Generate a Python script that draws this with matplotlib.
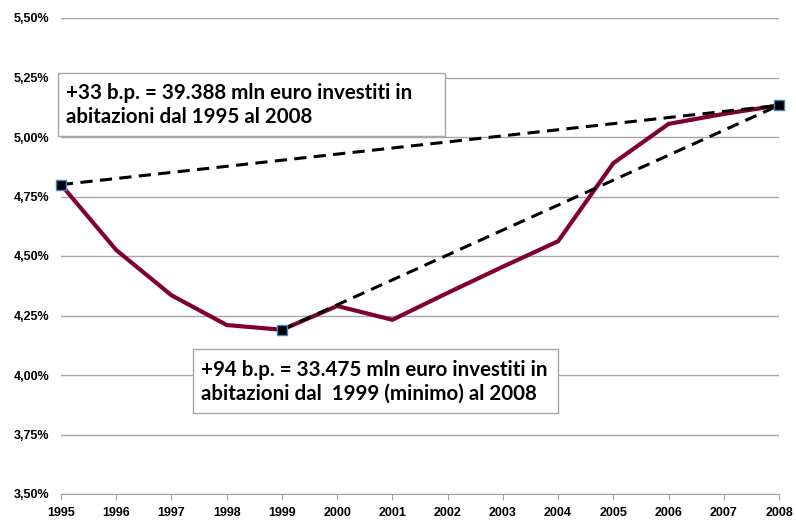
import matplotlib
matplotlib.use("Agg")
import matplotlib.pyplot as plt
from matplotlib.patches import Rectangle
from matplotlib.ticker import FuncFormatter

years = [1995, 1996, 1997, 1998, 1999, 2000, 2001, 2002, 2003, 2004, 2005, 2006, 2007, 2008]
rates = [4.80, 4.525, 4.335, 4.21, 4.19, 4.29, 4.232, 4.345, 4.455, 4.562, 4.89, 5.055, 5.097, 5.133]

# anchor points of the two comparisons (start year, end year)
span_long = [1995, 2008]
span_min = [1999, 2008]

note_long = "+33 b.p. = 39.388 mln euro investiti in\nabitazioni dal 1995 al 2008"
note_min = "+94 b.p. = 33.475 mln euro investiti in\nabitazioni dal  1999 (minimo) al 2008"

y_ticks = [3.50, 3.75, 4.00, 4.25, 4.50, 4.75, 5.00, 5.25, 5.50]

W, H = 796, 520
plt.rcParams["font.family"] = ["Liberation Sans", "DejaVu Sans"]

fig = plt.figure(figsize=(W / 100, H / 100), dpi=100)
ax = fig.add_axes([61 / W, 1 - 494 / H, 718 / W, 476 / H])

ax.plot(years, rates, color="#800033", lw=3.0, solid_joinstyle="miter", zorder=3)

for start, end in (span_long, span_min):
    ys = [rates[years.index(start)], rates[years.index(end)]]
    ax.plot([start, end], ys, color="black", lw=2.2, linestyle=(0, (4, 2.4)), zorder=4)

marker_years = sorted(set(span_long + span_min))
ax.plot(marker_years, [rates[years.index(y)] for y in marker_years], linestyle="none",
        marker="s", markersize=7.5, markerfacecolor="black", markeredgecolor="#4f81bd",
        markeredgewidth=1, zorder=5, clip_on=False)

ax.set_xlim(years[0], years[-1])
ax.set_ylim(y_ticks[0], y_ticks[-1])
ax.set_xticks(years)
ax.set_yticks(y_ticks)
ax.yaxis.set_major_formatter(FuncFormatter(lambda v, p: f"{v:.2f}%".replace(".", ",")))
ax.grid(axis="y", color="#a6a6a6", lw=1)
ax.set_axisbelow(True)
for side in ("left", "right", "top"):
    ax.spines[side].set_visible(False)
ax.spines["bottom"].set_color("#a6a6a6")
ax.tick_params(axis="y", length=0, pad=8.4, labelsize=9)
ax.tick_params(axis="x", length=4, color="#a6a6a6", pad=5, labelsize=9)
for lab in ax.get_xticklabels() + ax.get_yticklabels():
    lab.set_fontweight("bold")


def note_box(left, top, right, bottom, text_left, text_mid, text):
    # box and text placed in figure pixels (from the top-left corner)
    fig.add_artist(Rectangle((left / W, 1 - bottom / H), (right - left) / W, (bottom - top) / H,
                             transform=fig.transFigure, facecolor="white",
                             edgecolor="#a6a6a6", lw=1, zorder=6))
    fig.text(text_left / W, 1 - text_mid / H, text, fontsize=14.8, fontweight="bold",
             family=["Lato", "DejaVu Sans"], va="center", ha="left",
             linespacing=1.25, zorder=7)


note_box(58, 73, 445, 136, 66, 105, note_long)
note_box(193, 349, 558, 413, 201, 381.5, note_min)

fig.savefig("out.png", dpi=100)
